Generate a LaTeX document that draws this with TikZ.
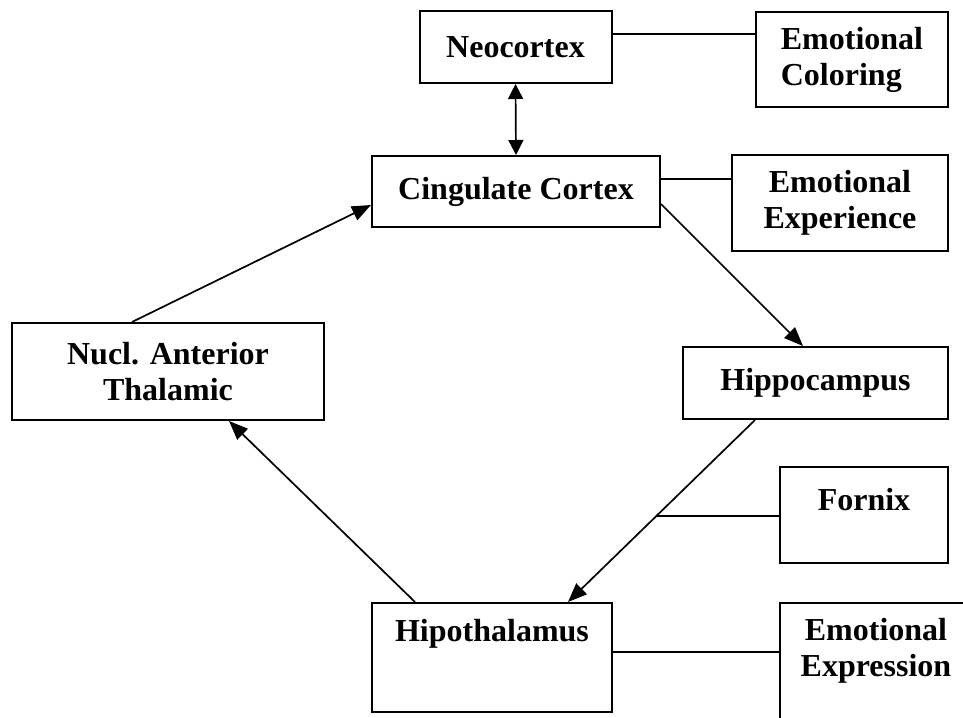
\documentclass[tikz,border=0pt]{standalone}
\usepackage{fontspec}
\setmainfont{Liberation Serif}
\usetikzlibrary{arrows.meta,calc}
\begin{document}
\begin{tikzpicture}[x=1pt,y=-1pt,
  box/.style={draw, line width=2pt, rectangle, inner sep=0pt,
    font=\bfseries\fontsize{32}{36}\selectfont, align=center},
  lbl/.style={inner sep=0pt, font=\bfseries\fontsize{32}{36}\selectfont, align=center},
  conn/.style={line width=1.7pt},
  arr/.style={line width=1.7pt, -{Triangle[length=19pt,width=15pt]}},
  darr/.style={line width=1.7pt, {Triangle[length=15pt,width=15pt]}-{Triangle[length=15pt,width=15pt]}},
]
\clip (0,0) rectangle (963,717);
\fill[white] (0,0) rectangle (963,717);

\node[box, minimum width=192pt, minimum height=72pt] (neo) at (515.5,47) {Neocortex};
\node[box, minimum width=192pt, minimum height=95pt, align=left] (ec) at (852,59.5) {Emotional\\Coloring};
\node[box, minimum width=288pt, minimum height=71pt] (cing) at (516,191.5) {Cingulate Cortex};
\node[box, minimum width=216pt, minimum height=96pt] (eexp) at (840,203) {Emotional\\Experience};
\node[box, minimum width=312pt, minimum height=97pt] (nucl) at (168,371.5) {Nucl. Anterior\\Thalamic};
\node[box, minimum width=265pt, minimum height=72pt] (hippo) at (815.5,383) {Hippocampus};
\node[box, minimum width=168pt, minimum height=96pt] (fornix) at (864,515) {};
\node[lbl] (fornixtext) at (864,500) {Fornix};
\node[box, minimum width=240pt, minimum height=109pt] (hipo) at (492,657.5) {};
\node[lbl] (hipotext) at (492,634) {Hipothalamus};
\node[box, minimum width=230pt, minimum height=197pt] (ee) at (895,701.5) {};
\node[lbl] (eetext) at (876,651) {Emotional\\Expression};

% connectors
\coordinate (nl) at ($(neo.east)+(0,-13)$);
\draw[conn] (nl) -- (nl -| ec.west);
\draw[darr] (neo.south) -- (cing.north);
\coordinate (cl) at ($(cing.east)+(0,-12.5)$);
\draw[conn] (cl) -- (cl -| eexp.west);
\draw[arr] ($(cing.east)+(0,12.5)$) -- ($(hippo.north)+(-12.5,0)$);
\draw[arr] ($(nucl.north)+(-36,0)$) -- ($(cing.west)+(0,13.5)$);
\coordinate (hs) at ($(hippo.south)+(-60.5,0)$);
\coordinate (ht) at ($(hipo.north)+(76,0)$);
\draw[arr] (hs) -- (ht);
\coordinate (fj) at ($(hs)!0.5272!(ht)$);
\draw[conn] (fj) -- (fj -| fornix.west);
\draw[arr] ($(hipo.north)+(-77,0)$) -- ($(nucl.south)+(61,0)$);
\coordinate (hl) at ($(hipo.east)+(0,-5.5)$);
\draw[conn] (hl) -- (hl -| ee.west);
\end{tikzpicture}
\end{document}
